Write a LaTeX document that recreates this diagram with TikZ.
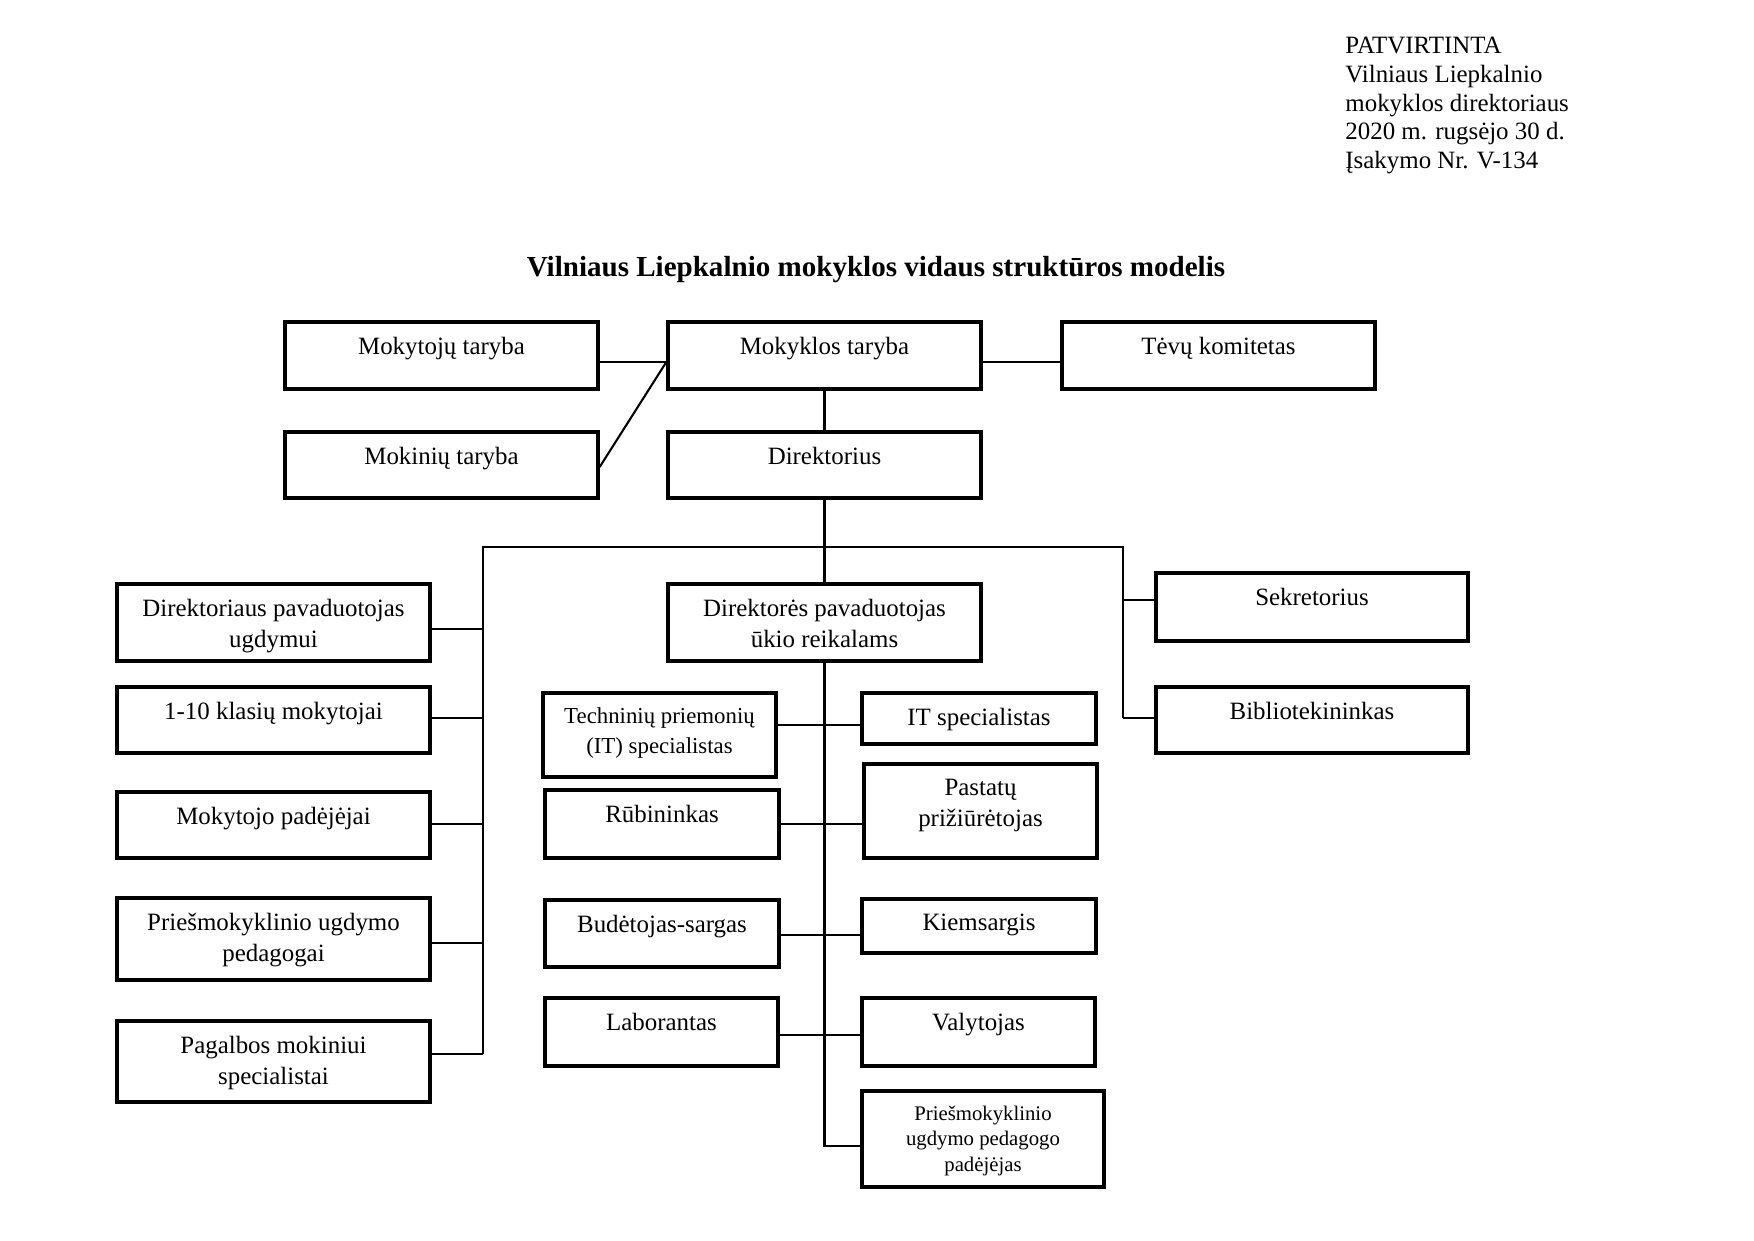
\documentclass[tikz,border=0pt]{standalone}
\usepackage{fontspec}
\setmainfont{Liberation Serif}
\usetikzlibrary{fit,calc}
\tikzset{
  box/.style={draw, line width=1.6pt, inner sep=0pt},
  lbl/.style={inner sep=0pt, align=center, font=\fontsize{12}{15}\selectfont},
  lblsm/.style={inner sep=0pt, align=center, font=\fontsize{11}{14.2}\selectfont},
  lblxs/.style={inner sep=0pt, align=center, font=\fontsize{10}{12.3}\selectfont},
  conn/.style={line width=1pt},
}
\newcommand{\obox}[7]{%
  \node[box, fit={(#3,#4) (#5,#6)}] (#1) {};
  \node[#2, anchor=north] (#1-t) at ($(#1.north)+(0,16)$) {#7};
}
\begin{document}
\begin{tikzpicture}[x=0.16933mm, y=-0.16933mm]
\useasboundingbox (0,0) rectangle (1754,1240);

% header
\node[anchor=north west, inner sep=0pt, align=left, font=\fontsize{12}{13.8}\selectfont] (hdr) at (1345,37)
  {PATVIRTINTA\\Vilniaus Liepkalnio\\mokyklos direktoriaus\\2020 m. rugsėjo 30 d.\\Įsakymo Nr. V-134};

% title
\node[anchor=base, inner sep=0pt, font=\fontsize{14}{16}\selectfont\bfseries] (title) at (876,276)
  {Vilniaus Liepkalnio mokyklos vidaus struktūros modelis};

% boxes
\obox{mt}{lbl}{285}{322}{598}{389}{Mokytojų taryba}
\obox{mk}{lbl}{668}{322}{981}{389}{Mokyklos taryba}
\obox{tk}{lbl}{1062}{322}{1375}{389}{Tėvų komitetas}
\obox{mn}{lbl}{285}{432}{598}{498}{Mokinių taryba}
\obox{dir}{lbl}{668}{432}{981}{498}{Direktorius}

\obox{dpu}{lbl}{117}{584}{430}{661}{Direktoriaus pavaduotojas\\ugdymui}
\obox{k110}{lbl}{117}{687}{430}{753}{1-10 klasių mokytojai}
\obox{mpad}{lbl}{117}{792}{430}{858}{Mokytojo padėjėjai}
\obox{pup}{lbl}{117}{898}{430}{980}{Priešmokyklinio ugdymo\\pedagogai}
\obox{pms}{lbl}{117}{1021}{430}{1102}{Pagalbos mokiniui\\specialistai}

\obox{dpk}{lbl}{668}{584}{981}{661}{Direktorės pavaduotojas\\ūkio reikalams}
\obox{sek}{lbl}{1156}{573}{1468}{641}{Sekretorius}
\obox{bib}{lbl}{1156}{687}{1468}{753}{Bibliotekininkas}

\obox{tech}{lblsm}{543}{693}{776}{777}{Techninių priemonių\\(IT) specialistas}
\obox{its}{lbl}{862}{693}{1096}{744}{IT specialistas}
\obox{rub}{lbl}{545}{790}{779}{858}{Rūbininkas}
\obox{pas}{lbl}{864}{764}{1097}{858}{Pastatų\\prižiūrėtojas}
\obox{bud}{lbl}{545}{900}{779}{967}{Budėtojas-sargas}
\obox{kie}{lbl}{862}{899}{1096}{953}{Kiemsargis}
\obox{lab}{lbl}{545}{998}{778}{1066}{Laborantas}
\obox{val}{lbl}{862}{998}{1095}{1066}{Valytojas}
\obox{ppp}{lblxs}{862}{1091}{1104}{1187}{Priešmokyklinio\\ugdymo pedagogo\\padėjėjas}

% helper coordinates
\coordinate (hA) at (0,362);
\coordinate (hB) at (0,467);
\coordinate (bl) at (483,547);
\coordinate (br) at (1123,547);
\coordinate (L1) at (483,629);
\coordinate (L2) at (483,718);
\coordinate (L3) at (483,824);
\coordinate (L4) at (483,943);
\coordinate (L5) at (483,1054);
\coordinate (R1) at (1123,600);
\coordinate (R2) at (1123,718);
\coordinate (M1) at (824.5,725);
\coordinate (M2) at (824.5,824);
\coordinate (M3) at (824.5,935);
\coordinate (M4) at (824.5,1035);
\coordinate (M5) at (824.5,1146);

% connectors, top
\draw[conn] (mt.east |- hA) -- (mk.west |- hA);
\draw[conn] (mn.east |- hB) -- (mk.west |- hA);
\draw[conn] (mk.east |- hA) -- (tk.west |- hA);
\draw[conn] (mk.south) -- (dir.north);
\draw[conn] (dir.south) -- (dpk.north);

% bus
\draw[conn] (L5) -- (bl) -- (br) -- (R2);
\draw[conn] (dpu.east |- L1) -- (L1);
\draw[conn] (k110.east |- L2) -- (L2);
\draw[conn] (mpad.east |- L3) -- (L3);
\draw[conn] (pup.east |- L4) -- (L4);
\draw[conn] (pms.east |- L5) -- (L5);
\draw[conn] (R1) -- (sek.west |- R1);
\draw[conn] (R2) -- (bib.west |- R2);

% middle spine
\draw[conn] (dpk.south) -- (M5) -- (ppp.west |- M5);
\draw[conn] (tech.east |- M1) -- (its.west |- M1);
\draw[conn] (rub.east |- M2) -- (pas.west |- M2);
\draw[conn] (bud.east |- M3) -- (kie.west |- M3);
\draw[conn] (lab.east |- M4) -- (val.west |- M4);
\end{tikzpicture}
\end{document}
